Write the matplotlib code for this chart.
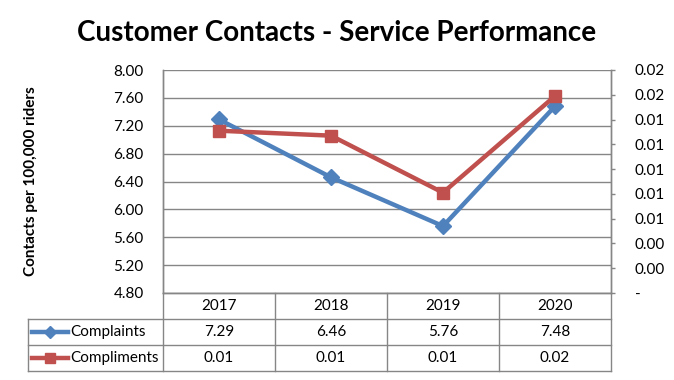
import numpy as np
import matplotlib.pyplot as plt
from matplotlib.lines import Line2D

plt.rcParams['font.family'] = ['Lato', 'DejaVu Sans']

years = ['2017', '2018', '2019', '2020']
complaints = [7.29, 6.46, 5.76, 7.48]
compliments = [0.0131, 0.0127, 0.0081, 0.0159]

blue = '#4F81BD'
red = '#C0504D'
grey = '#868686'

W, H = 674, 380
fig = plt.figure(figsize=(W / 100, H / 100), dpi=100)

# plot area in pixels
x0, x1, y0, y1 = 163, 611, 70, 293
ax = fig.add_axes([x0 / W, 1 - y1 / H, (x1 - x0) / W, (y1 - y0) / H])
ax2 = ax.twinx()

x = np.arange(len(years))
ax.plot(x, complaints, color=blue, lw=3.2, marker='D', ms=8, zorder=3)
ax2.plot(x, compliments, color=red, lw=3.2, marker='s', ms=8, zorder=3)

ax.set_xlim(-0.5, len(years) - 0.5)
ax.set_ylim(4.8, 8.0)
ax.set_yticks(np.arange(4.8, 8.01, 0.4))
ax.set_yticklabels([f'{v:.2f}' for v in np.arange(4.8, 8.01, 0.4)])
ax.yaxis.grid(True, color=grey, lw=1)
ax.set_axisbelow(True)
ax.set_xticks([])
ax.tick_params(axis='y', length=0, pad=14, labelsize=11)

ax2.set_ylim(0, 0.018)
rt = np.linspace(0, 0.018, 10)
ax2.set_yticks(rt)
ax2.set_yticklabels(['-' if v == 0 else f'{v:.2f}' for v in rt])
ax2.tick_params(axis='y', length=3, width=1, color=grey, pad=14, labelsize=11)

for a in (ax, ax2):
    for s in a.spines.values():
        s.set_color(grey)
        s.set_linewidth(1)
    a.spines['top'].set_visible(False)

ax.set_ylabel('Contacts per 100,000 riders', fontsize=11, fontweight='bold',
              labelpad=0)
ax.yaxis.set_label_coords((38 - x0) / (x1 - x0), 0.5)

fig.text(0.5, 1 - 33 / H, 'Customer Contacts - Service Performance',
         ha='center', va='center', fontsize=20, fontweight='bold')

# data table below the plot
def fy(py):
    return (y1 - py) / (y1 - y0)

def fx(px):
    return (px - x0) / (x1 - x0)

rows = [293, 319, 345, 371]
tl = fx(28)
kw = dict(transform=ax.transAxes, color=grey, lw=1, clip_on=False)
ax.add_line(Line2D([tl, 1], [fy(rows[1])] * 2, **kw))
ax.add_line(Line2D([tl, 1], [fy(rows[2])] * 2, **kw))
ax.add_line(Line2D([tl, 1], [fy(rows[3])] * 2, **kw))
ax.add_line(Line2D([tl, tl], [fy(rows[1]), fy(rows[3])], **kw))
bt = ax.get_xaxis_transform()
for b in np.arange(-0.5, len(years), 1.0):
    ax.add_line(Line2D([b, b], [0, fy(rows[3])], transform=bt, color=grey,
                       lw=1, clip_on=False))

for i, yr in enumerate(years):
    ax.text(i, fy(306), yr, transform=bt, ha='center', va='center', fontsize=11)
    ax.text(i, fy(332), f'{complaints[i]:.2f}', transform=bt, ha='center',
            va='center', fontsize=11)
    ax.text(i, fy(358), f'{compliments[i]:.2f}', transform=bt, ha='center',
            va='center', fontsize=11)

# legend keys in the table
for py, col, mk, ms, name in [(332, blue, 'D', 6, 'Complaints'),
                              (358, red, 's', 7, 'Compliments')]:
    ax.add_line(Line2D([fx(32), fx(68)], [fy(py)] * 2, transform=ax.transAxes,
                       color=col, lw=3.2, clip_on=False))
    ax.add_line(Line2D([fx(50)], [fy(py)], transform=ax.transAxes, color=col,
                       marker=mk, ms=ms, clip_on=False))
    ax.text(fx(70), fy(py), name, transform=ax.transAxes, ha='left',
            va='center', fontsize=11)

fig.savefig('out.png', dpi=100)
